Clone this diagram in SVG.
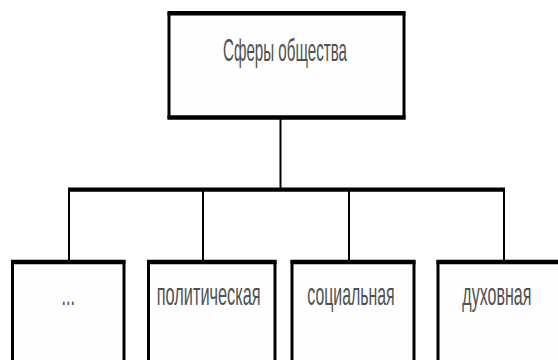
<svg xmlns="http://www.w3.org/2000/svg" width="558" height="360" viewBox="0 0 558 360">
<style>
.box{fill:#fefefe;stroke:#000;stroke-width:3}
.edge{stroke:#000;stroke-width:4.5;fill:none}
.lbl{font-family:"Liberation Sans",Arial,sans-serif;font-size:32px;fill:#505050;text-anchor:start}
.conn{stroke:#000;fill:none}
</style>
<rect width="558" height="360" fill="#fff"/>
<g id="connectors">
<line class="conn" x1="280.5" y1="118" x2="280.5" y2="190" stroke-width="2"/>
<line class="conn" x1="68" y1="189.6" x2="505" y2="189.6" stroke-width="4.2"/>
<line class="conn" x1="69" y1="190" x2="69" y2="262" stroke-width="2"/>
<line class="conn" x1="203" y1="190" x2="203" y2="262" stroke-width="2"/>
<line class="conn" x1="349" y1="190" x2="349" y2="262" stroke-width="2"/>
<line class="conn" x1="504" y1="190" x2="504" y2="262" stroke-width="2"/>
</g>
<g id="node-root">
<rect class="box" x="169" y="13.5" width="235" height="104"/>
<line class="edge" x1="167.5" y1="13.3" x2="405.5" y2="13.3"/>
<line class="edge" x1="167.5" y1="117.6" x2="405.5" y2="117.6"/>
<text class="lbl" transform="translate(223 60.5) scale(0.5 1)" textLength="248" lengthAdjust="spacingAndGlyphs">Сферы общества</text>
</g>
<g id="node-1">
<rect class="box" x="12.5" y="262" width="111.5" height="110"/>
<line class="edge" x1="11" y1="262" x2="125.5" y2="262"/>
<text class="lbl" transform="translate(61.5 304.5) scale(0.5 1)" textLength="27" lengthAdjust="spacingAndGlyphs">...</text>
</g>
<g id="node-2">
<rect class="box" x="148.5" y="262" width="126.5" height="110"/>
<line class="edge" x1="147" y1="262" x2="276.5" y2="262"/>
<text class="lbl" transform="translate(156.7 304.5) scale(0.5 1)" textLength="208" lengthAdjust="spacingAndGlyphs">политическая</text>
</g>
<g id="node-3">
<rect class="box" x="292" y="262" width="122" height="110"/>
<line class="edge" x1="290.5" y1="262" x2="415.5" y2="262"/>
<text class="lbl" transform="translate(307.3 304.5) scale(0.5 1)" textLength="174.8" lengthAdjust="spacingAndGlyphs">социальная</text>
</g>
<g id="node-4">
<rect class="box" x="438" y="262" width="140" height="110"/>
<line class="edge" x1="436.5" y1="262" x2="560" y2="262"/>
<text class="lbl" transform="translate(462.3 304.5) scale(0.5 1)" textLength="138" lengthAdjust="spacingAndGlyphs">духовная</text>
</g>
</svg>
